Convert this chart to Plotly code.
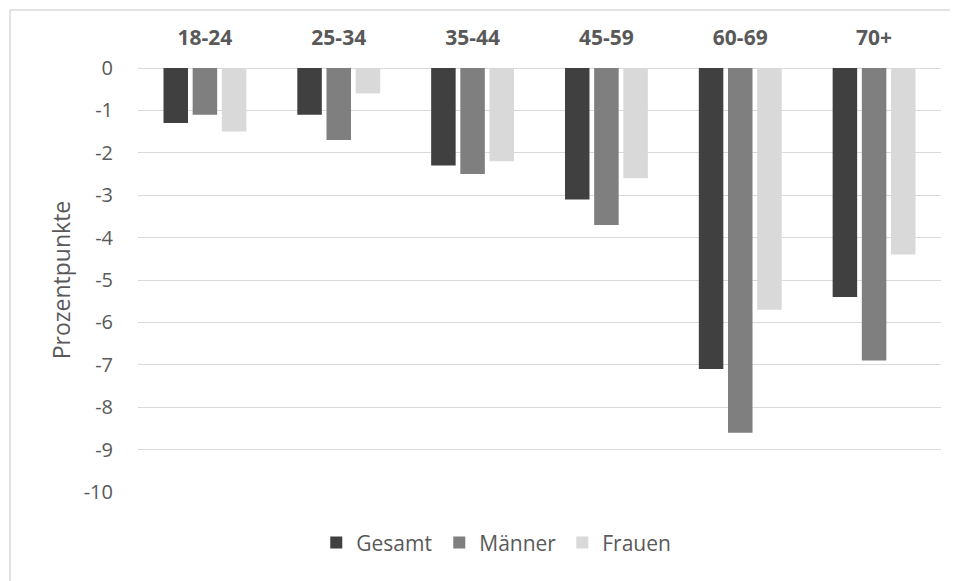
import plotly.graph_objects as go

categories = ["18-24", "25-34", "35-44", "45-59", "60-69", "70+"]
gesamt = [-1.3, -1.1, -2.3, -3.1, -7.1, -5.4]
maenner = [-1.1, -1.7, -2.5, -3.7, -8.6, -6.9]
frauen = [-1.5, -0.6, -2.2, -2.6, -5.7, -4.4]
series_names = ["Gesamt", "Männer", "Frauen"]
colors = ["#404040", "#7f7f7f", "#d9d9d9"]
y_ticks = list(range(0, -11, -1))
y_tick_text = ["0"] + ["-%d" % -v for v in y_ticks[1:]]

fig = go.Figure()
for name, vals, col in zip(series_names, [gesamt, maenner, frauen], colors):
    fig.add_trace(go.Bar(x=categories, y=vals, name=name, marker_color=col,
                         marker_line_width=0))

font_family = "Open Sans"
text_col = "#595959"

# page has an 8px body margin; figure is sized to fit inside the window
W, H = 950, 573
L, T, R, B = 130, 60, 17, 89
pw, ph = W - L - R, H - T - B

fig.update_layout(
    width=W, height=H,
    paper_bgcolor="white", plot_bgcolor="white",
    margin=dict(l=L, r=R, t=T, b=B),
    barmode="group", bargap=0.346, bargroupgap=0.16,
    font=dict(family=font_family, size=20, color=text_col),
    showlegend=True,
    legend=dict(orientation="h", x=0.222, xanchor="left", y=-0.12, yanchor="middle",
                font=dict(size=21, color=text_col), entrywidth=78,
                itemwidth=30),
    xaxis=dict(side="top", showgrid=False, showline=False, zeroline=False,
               ticks="outside", ticklen=14, tickcolor="rgba(0,0,0,0)",
               tickfont=dict(family=font_family, size=21, color=text_col, weight="bold")),
    yaxis=dict(range=[-10, 0], tickvals=y_ticks, ticktext=y_tick_text,
               showgrid=True, gridcolor="#d9d9d9",
               gridwidth=1.3, zeroline=True, zerolinecolor="#d9d9d9", zerolinewidth=1.3,
               showline=False, ticks="outside", ticklen=20, tickcolor="rgba(0,0,0,0)",
               tickfont=dict(size=20, color=text_col),
               title=dict(text="Prozentpunkte", font=dict(size=23, color=text_col), standoff=6)),
    shapes=[dict(type="rect", xref="paper", yref="paper",
                 x0=(2 - L) / pw, x1=(W + 10 - L) / pw,
                 y0=-(B + 10) / ph, y1=1 + (T - 2) / ph,
                 line=dict(color="#d9d9d9", width=1.5), fillcolor="rgba(0,0,0,0)",
                 layer="below")],
)

fig.write_html("out.html")
